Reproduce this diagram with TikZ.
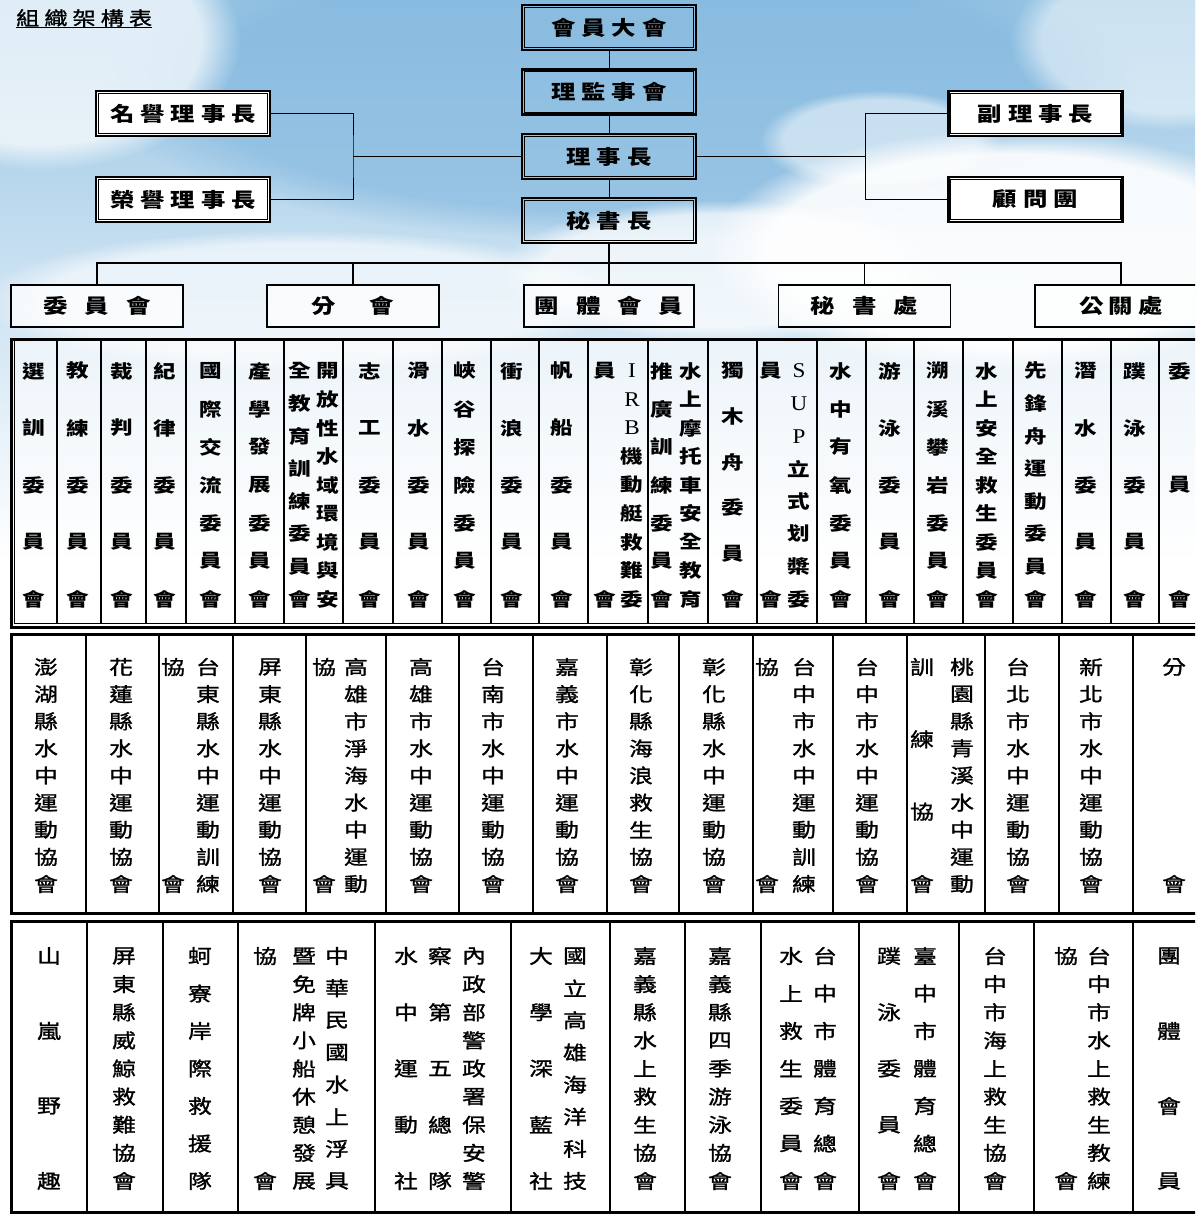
\documentclass[tikz,border=0pt]{standalone}
\usepackage{fontspec}
\setmainfont{Noto Sans CJK TC}
\newfontfamily\cj[FakeStretch=1.22]{Noto Sans CJK TC}
\newfontfamily\cjm[FakeStretch=1.22,FakeBold=1.3]{Noto Sans CJK TC}
\newfontfamily\lat[FakeStretch=1.1]{Liberation Serif}
\usetikzlibrary{fadings}
\definecolor{sky}{RGB}{150,196,228}
\definecolor{deepsky}{RGB}{128,182,222}
\newcommand\LL[1]{{\lat\mdseries\fontsize{21}{21}\selectfont #1}}
\newcommand\vcol[6]{%
  \pgfmathsetmacro\vcdy{(#4-#3)/(#5-1)}%
  \foreach \ch [count=\i from 0] in {#6}{%
    \node[tchar] (#1-\i) at (#2,{#3+\i*\vcdy}) {\ch};}%
}
\newcommand\innerbox[1]{\draw[line width=0.8pt] ([shift={(3.6pt,-3.6pt)}]#1.north west) rectangle ([shift={(-3.6pt,3.6pt)}]#1.south east);}
\tikzset{
  dbox/.style={draw, line width=2.6pt, minimum width=174pt, minimum height=45pt, inner sep=0pt,
    font=\cj\bfseries\fontsize{20}{20}\selectfont},
  rbox/.style={draw, line width=1.8pt, minimum width=172pt, minimum height=42pt, inner sep=0pt,
    fill=white, fill opacity=0.7, text opacity=1, font=\cj\bfseries\fontsize{20}{20}\selectfont},
  conn/.style={line width=1pt},
  sepl/.style={line width=1.3pt},
  frame/.style={line width=3pt},
}
\begin{document}
\begin{tikzpicture}[x=1pt,y=-1pt]
\useasboundingbox (0,0) rectangle (1195,1214);
\clip (0,0) rectangle (1195,1214);
% background sky
\fill[white] (0,0) rectangle (1195,1214);
\shade[top color=sky, bottom color=white] (0,0) rectangle (1195,560);
\fill[deepsky, opacity=0.6, path fading=circle with fuzzy edge 20 percent] (620,90) ellipse (520 and 150);
\fill[white, opacity=0.7, path fading=circle with fuzzy edge 20 percent] (40,40) ellipse (200 and 130);
\fill[white, opacity=0.9, path fading=circle with fuzzy edge 20 percent] (1010,250) ellipse (300 and 120);
\fill[white, opacity=0.7, path fading=circle with fuzzy edge 20 percent] (720,270) ellipse (220 and 70);
\fill[white, opacity=0.6, path fading=circle with fuzzy edge 20 percent] (300,300) ellipse (320 and 70);
\fill[white, opacity=0.5, path fading=circle with fuzzy edge 20 percent] (1170,40) ellipse (160 and 90);
\fill[white, opacity=0.5, path fading=circle with fuzzy edge 20 percent] (880,140) ellipse (120 and 50);

% title
\node[font=\cjm\fontsize{19}{19}\selectfont, inner sep=0pt, anchor=west] (title) at (16,18)
  {組\kern5pt 織\kern5pt 架\kern5pt 構\kern5pt 表};
\draw[line width=0.9pt] ([yshift=-0.5pt]title.south west) -- ([yshift=-0.5pt]title.south east);

% central column
\node[dbox] (hy) at (609,27.5) {會\kern6pt 員\kern6pt 大\kern6pt 會}; \innerbox{hy}
\node[dbox] (ljs) at (609,92) {理\kern6pt 監\kern6pt 事\kern6pt 會}; \innerbox{ljs}
\node[dbox] (lsz) at (609,156.5) {理\kern6pt 事\kern6pt 長}; \innerbox{lsz}
\node[dbox] (msz) at (609,220.5) {秘\kern6pt 書\kern6pt 長}; \innerbox{msz}
% side boxes
\node[dbox, fill=white] (my) at (183,113.5) {名\kern6pt 譽\kern6pt 理\kern6pt 事\kern6pt 長}; \innerbox{my}
\node[dbox, fill=white] (ry) at (183,199.5) {榮\kern6pt 譽\kern6pt 理\kern6pt 事\kern6pt 長}; \innerbox{ry}
\node[dbox, fill=white] (fl) at (1035.5,113.5) {副\kern6pt 理\kern6pt 事\kern6pt 長}; \innerbox{fl}
\node[dbox, fill=white] (gw) at (1035.5,199.5) {顧\kern6pt 問\kern6pt 團}; \innerbox{gw}

\coordinate (lj) at (353,156.5);
\coordinate (rj) at (865,156.5);
\coordinate (bus) at (609,263);
\draw[conn] (hy) -- (ljs);
\draw[conn] (ljs) -- (lsz);
\draw[conn] (lsz) -- (msz);
\draw[conn] (my.east) -| (lj) |- (ry.east);
\draw[conn] (lj) -- (lsz.west);
\draw[conn] (fl.west) -| (rj) |- (gw.west);
\draw[conn] (lsz.east) -- (rj);

% second level boxes
\node[rbox] (wyh) at (97,306) {委\kern17pt 員\kern17pt 會};
\node[rbox] (fh) at (353,306) {分\kern34pt 會};
\node[rbox, minimum width=170pt, fill opacity=0.5] (ttm) at (609,306) {團\kern17pt 體\kern17pt 會\kern17pt 員};
\node[rbox, fill opacity=0.25] (msc) at (864.5,306) {秘\kern17pt 書\kern17pt 處};
\node[rbox] (ggc) at (1121,306) {公\kern5pt 關\kern5pt 處};
\draw[line width=1.4pt] (wyh.north) |- (bus) -| (ggc.north);
\draw[line width=1.4pt] (msz.south) -- (ttm.north);
\draw[line width=1.6pt] (fh.north) -- (fh.north |- bus);
\draw[line width=1.6pt] (msc.north) -- (msc.north |- bus);
\draw[line width=1.6pt] (wyh.north) -- ++(0,-4);
\draw[line width=1.6pt] (ggc.north) -- ++(0,-4);

% ===== table 1 : committees =====
\fill[white, opacity=0.55] (11,339) rectangle (1200,627);
\foreach \xx in {57,101,146,186,235,284,343,393,442,491,539,588,648,708,757,817,866,914,963,1013,1062,1111,1159}
  \draw[sepl] (\xx,340) -- (\xx,624);
\draw[frame] (9.5,339) -- (1200,339);
\draw[frame] (11,339) -- (11,628);
\draw[frame] (9.5,627) -- (1200,627);
\draw[line width=0.8pt] (14,341) -- (14,623) -- (1200,623);

\begin{scope}[tchar/.style={font=\cj\bfseries\fontsize{18.5}{18.5}\selectfont, inner sep=0pt}]
\vcol{ta}{34}{371}{599}{5}{選,訓,委,員,會}
\vcol{tb}{78}{371}{599}{5}{教,練,委,員,會}
\vcol{tc}{122}{371}{599}{5}{裁,判,委,員,會}
\vcol{td}{165}{371}{599}{5}{紀,律,委,員,會}
\vcol{te}{211}{371}{599}{7}{國,際,交,流,委,員,會}
\vcol{tf}{260}{371}{599}{7}{產,學,發,展,委,員,會}
\vcol{tgr}{328}{371}{599}{9}{開,放,性,水,域,環,境,與,安}
\vcol{tgl}{300}{371}{599}{8}{全,教,育,訓,練,委,員,會}
\vcol{th}{370}{371}{599}{5}{志,工,委,員,會}
\vcol{ti}{419}{371}{599}{5}{滑,水,委,員,會}
\vcol{tj}{465}{371}{599}{7}{峽,谷,探,險,委,員,會}
\vcol{tk}{512}{371}{599}{5}{衝,浪,委,員,會}
\vcol{tl}{562}{371}{599}{5}{帆,船,委,員,會}
\vcol{tmr}{632}{371}{599}{9}{\LL{I},\LL{R},\LL{B},機,動,艇,救,難,委}
\vcol{tml}{605}{371}{599}{2}{員,會}
\vcol{tnr}{691}{371}{599}{9}{水,上,摩,托,車,安,全,教,育}
\vcol{tnl}{662}{371}{599}{7}{推,廣,訓,練,委,員,會}
\vcol{to}{733}{371}{599}{6}{獨,木,舟,委,員,會}
\vcol{tpr}{799}{371}{599}{8}{\LL{S},\LL{U},\LL{P},立,式,划,槳,委}
\vcol{tpl}{771}{371}{599}{2}{員,會}
\vcol{tq}{841}{371}{599}{7}{水,中,有,氧,委,員,會}
\vcol{tr}{890}{371}{599}{5}{游,泳,委,員,會}
\vcol{ts}{938}{371}{599}{7}{溯,溪,攀,岩,委,員,會}
\vcol{tt}{987}{371}{599}{9}{水,上,安,全,救,生,委,員,會}
\vcol{tu}{1036}{371}{599}{8}{先,鋒,舟,運,動,委,員,會}
\vcol{tv}{1086}{371}{599}{5}{潛,水,委,員,會}
\vcol{tw}{1135}{371}{599}{5}{蹼,泳,委,員,會}
\vcol{tx}{1180}{371}{599}{3}{委,員,會}
\end{scope}

% ===== table 2 : branches =====
\fill[white] (11,634) rectangle (1200,913);
\foreach \xx in {86,159,233,306,386,459,533,607,679,753,833,907,985,1059,1133}
  \draw[sepl] (\xx,634) -- (\xx,913);
\draw[frame] (11,634) rectangle (1203,913);

\begin{scope}[tchar/.style={font=\cjm\fontsize{19.5}{19.5}\selectfont, inner sep=0pt}]
\vcol{ua}{46}{667}{884}{9}{澎,湖,縣,水,中,運,動,協,會}
\vcol{ub}{121}{667}{884}{9}{花,蓮,縣,水,中,運,動,協,會}
\vcol{ucr}{208}{667}{884}{9}{台,東,縣,水,中,運,動,訓,練}
\vcol{ucl}{173}{667}{884}{2}{協,會}
\vcol{ud}{270}{667}{884}{9}{屏,東,縣,水,中,運,動,協,會}
\vcol{uer}{356}{667}{884}{9}{高,雄,市,淨,海,水,中,運,動}
\vcol{uel}{324}{667}{884}{2}{協,會}
\vcol{uf}{421}{667}{884}{9}{高,雄,市,水,中,運,動,協,會}
\vcol{ug}{493}{667}{884}{9}{台,南,市,水,中,運,動,協,會}
\vcol{uh}{567}{667}{884}{9}{嘉,義,市,水,中,運,動,協,會}
\vcol{ui}{641}{667}{884}{9}{彰,化,縣,海,浪,救,生,協,會}
\vcol{uj}{714}{667}{884}{9}{彰,化,縣,水,中,運,動,協,會}
\vcol{ukr}{804}{667}{884}{9}{台,中,市,水,中,運,動,訓,練}
\vcol{ukl}{767}{667}{884}{2}{協,會}
\vcol{ul}{867}{667}{884}{9}{台,中,市,水,中,運,動,協,會}
\vcol{umr}{962}{667}{884}{9}{桃,園,縣,青,溪,水,中,運,動}
\vcol{uml}{922}{667}{884}{4}{訓,練,協,會}
\vcol{un}{1018}{667}{884}{9}{台,北,市,水,中,運,動,協,會}
\vcol{uo}{1091}{667}{884}{9}{新,北,市,水,中,運,動,協,會}
\vcol{up}{1174}{667}{884}{2}{分,會}
\end{scope}

% ===== table 3 : group members =====
\fill[white] (11,921) rectangle (1200,1212);
\foreach \xx in {87,163,238,375,511,610,685,761,859,959,1034,1133}
  \draw[sepl] (\xx,921) -- (\xx,1212);
\draw[frame] (11,921) rectangle (1203,1212);

\begin{scope}[tchar/.style={font=\cjm\fontsize{19.5}{19.5}\selectfont, inner sep=0pt}]
\vcol{va}{49}{956}{1181}{4}{山,嵐,野,趣}
\vcol{vb}{124}{956}{1181}{9}{屏,東,縣,威,鯨,救,難,協,會}
\vcol{vc}{200}{956}{1181}{7}{蚵,寮,岸,際,救,援,隊}
\vcol{vdr}{337}{956}{1181}{8}{中,華,民,國,水,上,浮,具}
\vcol{vdm}{304}{956}{1181}{9}{暨,免,牌,小,船,休,憩,發,展}
\vcol{vdl}{265}{956}{1181}{2}{協,會}
\vcol{ver}{474}{956}{1181}{9}{內,政,部,警,政,署,保,安,警}
\vcol{vem}{440}{956}{1181}{5}{察,第,五,總,隊}
\vcol{vel}{406}{956}{1181}{5}{水,中,運,動,社}
\vcol{vfr}{575}{956}{1181}{8}{國,立,高,雄,海,洋,科,技}
\vcol{vfl}{541}{956}{1181}{5}{大,學,深,藍,社}
\vcol{vg}{645}{956}{1181}{9}{嘉,義,縣,水,上,救,生,協,會}
\vcol{vh}{720}{956}{1181}{9}{嘉,義,縣,四,季,游,泳,協,會}
\vcol{vir}{825}{956}{1181}{7}{台,中,市,體,育,總,會}
\vcol{vil}{791}{956}{1181}{7}{水,上,救,生,委,員,會}
\vcol{vjr}{925}{956}{1181}{7}{臺,中,市,體,育,總,會}
\vcol{vjl}{889}{956}{1181}{5}{蹼,泳,委,員,會}
\vcol{vk}{995}{956}{1181}{9}{台,中,市,海,上,救,生,協,會}
\vcol{vlr}{1099}{956}{1181}{9}{台,中,市,水,上,救,生,教,練}
\vcol{vll}{1066}{956}{1181}{2}{協,會}
\vcol{vm}{1169}{956}{1181}{4}{團,體,會,員}
\end{scope}
\end{tikzpicture}
\end{document}
